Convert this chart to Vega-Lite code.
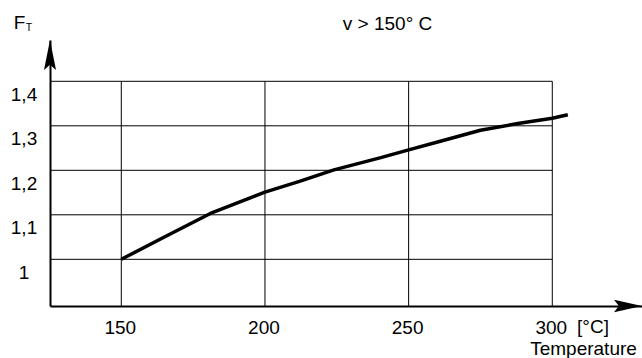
{
  "$schema": "https://vega.github.io/schema/vega-lite/v6.json",
  "width": 592,
  "height": 266,
  "autosize": {"type": "none"},
  "padding": {"left": 50, "top": 40, "right": 0, "bottom": 52},
  "background": "white",
  "config": {"view": {"stroke": null}, "text": {"font": "Liberation Sans"}},
  "datasets": {
    "vgrid": [{"t": 150}, {"t": 200}, {"t": 250}, {"t": 300}],
    "hgrid": [{"f": 1}, {"f": 1.1}, {"f": 1.2}, {"f": 1.3}, {"f": 1.4}],
    "curve": [
      {"temp": 150, "ft": 1.0},
      {"temp": 165, "ft": 1.05},
      {"temp": 181, "ft": 1.103},
      {"temp": 200, "ft": 1.151},
      {"temp": 212, "ft": 1.175},
      {"temp": 224, "ft": 1.201},
      {"temp": 240, "ft": 1.228},
      {"temp": 250, "ft": 1.246},
      {"temp": 262, "ft": 1.267},
      {"temp": 275, "ft": 1.29},
      {"temp": 288, "ft": 1.305},
      {"temp": 300, "ft": 1.317},
      {"temp": 305.4, "ft": 1.325}
    ],
    "notes": [
      {"x": 114.61, "y": 1.5317, "label": "F"},
      {"x": 242.65, "y": 1.5288, "label": "v > 150° C"},
      {"x": 314.17, "y": 0.8472, "label": "[°C]"},
      {"x": 310.87, "y": 0.7989, "label": "Temperature"}
    ],
    "subs": [{"x": 117.88, "y": 1.5204, "label": "T"}]
  },
  "encoding": {
    "x": {
      "type": "quantitative",
      "scale": {"domain": [125.19, 331.22], "nice": false, "zero": false},
      "axis": {
        "values": [150, 200, 250, 300],
        "ticks": false,
        "grid": false,
        "domainColor": "black",
        "domainWidth": 2,
        "labelFont": "Liberation Sans",
        "labelFontSize": 19,
        "labelColor": "black",
        "labelPadding": 21,
        "labelBaseline": "middle",
        "labelOffset": -1.5,
        "labelFlush": false,
        "title": null
      }
    },
    "y": {
      "type": "quantitative",
      "scale": {"domain": [0.8951, 1.4928], "nice": false, "zero": false},
      "axis": {
        "values": [1, 1.1, 1.2, 1.3, 1.4],
        "ticks": false,
        "grid": false,
        "domainColor": "black",
        "domainWidth": 2,
        "labelFont": "Liberation Sans",
        "labelFontSize": 19,
        "labelColor": "black",
        "labelAlign": "center",
        "labelBaseline": "middle",
        "labelPadding": 26.5,
        "labelOffset": 13,
        "labelFlush": false,
        "labelExpr": "datum.value == 1 ? '1' : replace(format(datum.value, '.1f'), '.', ',')",
        "title": null
      }
    }
  },
  "layer": [
    {
      "data": {"name": "vgrid"},
      "mark": {"type": "rule", "color": "black", "strokeWidth": 1},
      "encoding": {
        "x": {"field": "t", "type": "quantitative", "title": null},
        "y": {"datum": 0.8951, "type": "quantitative"},
        "y2": {"datum": 1.4}
      }
    },
    {
      "data": {"name": "hgrid"},
      "mark": {"type": "rule", "color": "black", "strokeWidth": 1},
      "encoding": {
        "y": {"field": "f", "type": "quantitative", "title": null},
        "x": {"datum": 125.19, "type": "quantitative"},
        "x2": {"datum": 300}
      }
    },
    {
      "data": {"name": "curve"},
      "mark": {"type": "line", "color": "black", "strokeWidth": 3.5, "strokeCap": "butt", "strokeJoin": "round"},
      "encoding": {
        "x": {"field": "temp", "type": "quantitative", "title": null},
        "y": {"field": "ft", "type": "quantitative", "title": null}
      }
    },
    {
      "data": {"values": [{"a": 1}]},
      "mark": {"type": "point", "filled": true, "color": "black", "opacity": 1, "strokeWidth": 0, "shape": "M0,0L0.4,2L0,1.65L-0.4,2Z", "size": 900},
      "encoding": {
        "x": {"datum": 125.19, "type": "quantitative"},
        "y": {"datum": 1.4928, "type": "quantitative"}
      }
    },
    {
      "data": {"values": [{"a": 1}]},
      "mark": {"type": "point", "filled": true, "color": "black", "opacity": 1, "strokeWidth": 0, "shape": "M0,0L-2,-0.45L-1.65,0L-2,0.45Z", "size": 784},
      "encoding": {
        "x": {"datum": 331.22, "type": "quantitative"},
        "y": {"datum": 0.8951, "type": "quantitative"}
      }
    },
    {
      "data": {"name": "notes"},
      "mark": {"type": "text", "fontSize": 19, "font": "Liberation Sans", "color": "black", "align": "center", "baseline": "middle"},
      "encoding": {
        "x": {"field": "x", "type": "quantitative", "title": null},
        "y": {"field": "y", "type": "quantitative", "title": null},
        "text": {"field": "label"}
      }
    },
    {
      "data": {"name": "subs"},
      "mark": {"type": "text", "fontSize": 10.5, "font": "Liberation Sans", "color": "black", "align": "center", "baseline": "middle"},
      "encoding": {
        "x": {"field": "x", "type": "quantitative", "title": null},
        "y": {"field": "y", "type": "quantitative", "title": null},
        "text": {"field": "label"}
      }
    }
  ]
}
